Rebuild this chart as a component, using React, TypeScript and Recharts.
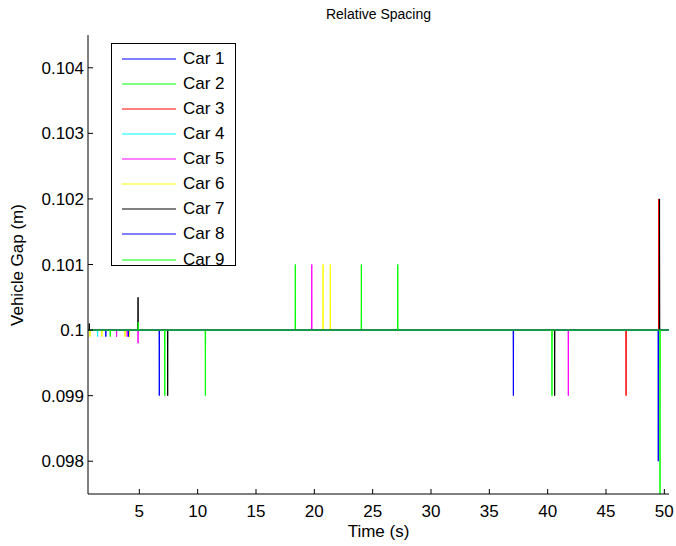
import React from 'react';
import { LineChart, Line, XAxis, YAxis, Legend } from 'recharts';

const carNames = ['Car 1', 'Car 2', 'Car 3', 'Car 4', 'Car 5', 'Car 6', 'Car 7', 'Car 8', 'Car 9'];
const carColors = ['#0000ff', '#00ff00', '#ff0000', '#00ffff', '#ff00ff', '#ffff00', '#000000', '#0000ff', '#00ff00'];

const baseGap = 0.1;
const timeStart = 0.6;
const timeEnd = 50.4;
const gapMin = 0.0975;
const gapMax = 0.1045;
const xTicks = [5, 10, 15, 20, 25, 30, 35, 40, 45, 50];
const yTicks = [0.098, 0.099, 0.1, 0.101, 0.102, 0.103, 0.104];

// spikes per car: [time (s), gap (m)]
const car1Spikes = [[6.71, 0.099], [37.06, 0.099]];
const car2Spikes = [[10.66, 0.099], [18.37, 0.101], [24.03, 0.101]];
const car3Spikes = [[46.72, 0.099], [49.52, 0.102]];
const car4Spikes = [[1.42, 0.0999]];
const car5Spikes = [[3.05, 0.0999], [3.96, 0.0999], [4.89, 0.0998], [19.78, 0.101], [41.77, 0.099]];
const car6Spikes = [[0.77, 0.0999], [1.79, 0.0999], [3.77, 0.0999], [4.15, 0.0999], [20.75, 0.101], [21.37, 0.101]];
const car7Spikes = [[0.71, 0.1001], [4.89, 0.1005], [7.43, 0.099], [40.6, 0.099], [49.59, 0.102]];
const car8Spikes = [[2.13, 0.0999], [4.07, 0.0999], [49.48, 0.098]];
const car9Spikes = [[2.51, 0.0999], [4.91, 0.10012], [7.18, 0.099], [27.15, 0.101], [40.37, 0.099], [49.63, 0.097]];

const allSpikes = [car1Spikes, car2Spikes, car3Spikes, car4Spikes, car5Spikes, car6Spikes, car7Spikes, car8Spikes, car9Spikes];

const buildSeries = (spikes: number[][]) => {
  const pts: { t: number; gap: number }[] = [{ t: timeStart, gap: baseGap }];
  const sorted = [...spikes].sort((a, b) => a[0] - b[0]);
  sorted.forEach(([t, v]) => {
    pts.push({ t: t - 0.02, gap: baseGap });
    pts.push({ t, gap: v });
    pts.push({ t: t + 0.02, gap: baseGap });
  });
  pts.push({ t: timeEnd, gap: baseGap });
  return pts;
};

const font = '"Liberation Sans", Arial, Helvetica, sans-serif';

const fmt = (v: number) => String(Number(v.toFixed(4)));

const LegendBox = () => (
  <div
    style={{
      border: '1px solid #000',
      background: '#fff',
      width: 125,
      height: 223,
      boxSizing: 'border-box',
      paddingTop: 2.5,
      fontFamily: font,
    }}
  >
    {carNames.map((n, i) => (
      <div key={n} style={{ display: 'flex', alignItems: 'center', height: 25.07 }}>
        <svg width={71} height={10} style={{ display: 'block' }}>
          <line x1={10} x2={64} y1={5} y2={5} stroke={carColors[i]} strokeWidth={1} />
        </svg>
        <span style={{ fontSize: 17, color: '#000', lineHeight: '20px' }}>{n}</span>
      </div>
    ))}
  </div>
);

export default function App() {
  return (
    <div style={{ position: 'absolute', left: 0, top: 0, width: 676, height: 546, background: '#fff', fontFamily: font }}>
      <LineChart width={676} height={546} margin={{ top: 35, right: 7, bottom: 0, left: 0 }}>
        <XAxis
          type="number"
          dataKey="t"
          domain={[timeStart, timeEnd]}
          ticks={xTicks}
          interval={0}
          allowDataOverflow
          height={52}
          tickSize={-5}
          tickMargin={16}
          axisLine={{ stroke: '#000' }}
          tickLine={{ stroke: '#000' }}
          tick={{ fill: '#000', fontSize: 17, fontFamily: font }}
        />
        <YAxis
          type="number"
          domain={[gapMin, gapMax]}
          ticks={yTicks}
          interval={0}
          allowDataOverflow
          width={88}
          tickSize={-5}
          tickMargin={9}
          tickFormatter={fmt}
          axisLine={{ stroke: '#000' }}
          tickLine={{ stroke: '#000' }}
          tick={{ fill: '#000', fontSize: 17, fontFamily: font }}
        />
        {allSpikes.map((s, i) => (
          <Line
            key={carNames[i]}
            name={carNames[i]}
            data={buildSeries(s)}
            dataKey="gap"
            type="linear"
            stroke={carColors[i]}
            strokeWidth={1}
            dot={false}
            activeDot={false}
            isAnimationActive={false}
          />
        ))}
        <Legend
          layout="vertical"
          align="center"
          verticalAlign="middle"
          content={() => <LegendBox />}
          wrapperStyle={{ position: 'absolute', left: 111, top: 43, width: 125, height: 223 }}
        />
      </LineChart>
      <div style={{ position: 'absolute', left: 88, width: 581, top: 5, textAlign: 'center', fontSize: 14, lineHeight: '18px', color: '#000' }}>
        Relative Spacing
      </div>
      <div style={{ position: 'absolute', left: 88, width: 581, top: 522, textAlign: 'center', fontSize: 17, lineHeight: '20px', color: '#000' }}>
        Time (s)
      </div>
      <div
        style={{
          position: 'absolute',
          left: -82,
          top: 254.5,
          width: 200,
          height: 20,
          lineHeight: '20px',
          textAlign: 'center',
          fontSize: 17,
          color: '#000',
          transform: 'rotate(-90deg)',
        }}
      >
        Vehicle Gap (m)
      </div>
    </div>
  );
}
